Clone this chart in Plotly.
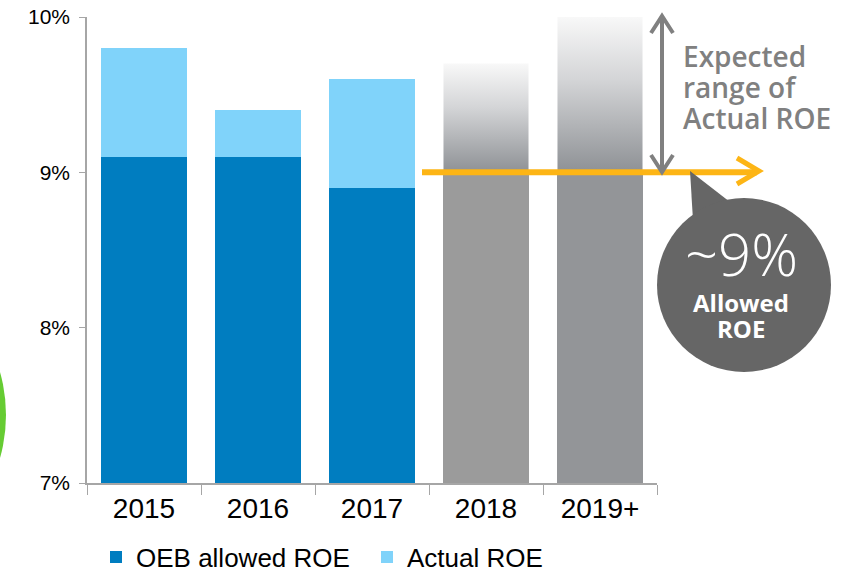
import plotly.graph_objects as go

# ---- data ----
years = ["2015", "2016", "2017", "2018", "2019+"]
hist_years = ["2015", "2016", "2017"]
oeb_allowed = [9.1, 9.1, 8.9]
actual_roe = [9.8, 9.4, 9.6]
proj_years = ["2018", "2019+"]
proj_base = [9.0, 9.0]
proj_top = [9.7, 10.0]
y_ticks = [7, 8, 9, 10]
y_tick_labels = ["7%", "8%", "9%", "10%"]
allowed_level = 9.0

# ---- geometry helpers (plot area in pixels) ----
L, R, T, B = 87, 657, 17, 483
W, H = 854, 572
def px(x):
    return (x - L) / (R - L)
def py(y):
    return (B - y) / (B - T)

BLUE = "#007DC0"
LIGHT = "#80D3FA"
FONT = "Arial, Liberation Sans, sans-serif"

fig = go.Figure()
fig.add_trace(go.Bar(x=hist_years, y=oeb_allowed, name="OEB allowed ROE",
                     marker=dict(color=BLUE, line=dict(width=0))))
fig.add_trace(go.Bar(x=hist_years, y=[a - o for a, o in zip(actual_roe, oeb_allowed)],
                     name="Actual ROE", marker=dict(color=LIGHT, line=dict(width=0))))
fig.add_trace(go.Bar(x=proj_years, y=proj_base, showlegend=False,
                     marker=dict(color=["#9B9B9B", "#939598"], line=dict(width=0))))

# gradient tops for projected bars (overlay numeric axis aligned with categories)
bw = 1 - 0.254
for yr, base, top in zip(proj_years, proj_base, proj_top):
    i = years.index(yr)
    fig.add_trace(go.Scatter(
        x=[i - bw / 2, i + bw / 2, i + bw / 2, i - bw / 2, i - bw / 2],
        y=[base, base, top, top, base],
        xaxis="x2", yaxis="y", mode="lines", fill="toself",
        line=dict(width=0, color="rgba(0,0,0,0)"),
        fillgradient=dict(type="vertical",
                          colorscale=[[0, "#8E9195"], [0.6, "#D4D5D7"], [1, "#F8F8F8"]]),
        showlegend=False, hoverinfo="skip"))

shapes = []
# green partial circle on the left edge
shapes.append(dict(type="circle", xref="paper", yref="paper",
                   x0=px(-308), x1=px(6), y0=py(572), y1=py(258),
                   fillcolor="#66CC33", line=dict(width=0), layer="above"))
# orange allowed-ROE arrow
ORANGE = "#FDB515"
shapes.append(dict(type="line", xref="paper", yref="y", x0=px(422), x1=px(757),
                   y0=allowed_level, y1=allowed_level, line=dict(color=ORANGE, width=6)))
shapes.append(dict(type="path", xref="paper", yref="paper",
                   path=f"M{px(737)},{py(158)} L{px(759)},{py(171)} L{px(737)},{py(184)}",
                   line=dict(color=ORANGE, width=5)))
# grey double arrow
GREY = "#808080"
shapes.append(dict(type="line", xref="paper", yref="paper", x0=px(662), x1=px(662),
                   y0=py(18), y1=py(170), line=dict(color=GREY, width=4)))
shapes.append(dict(type="path", xref="paper", yref="paper",
                   path=f"M{px(651)},{py(33)} L{px(662)},{py(16)} L{px(673)},{py(33)}",
                   line=dict(color=GREY, width=4)))
shapes.append(dict(type="path", xref="paper", yref="paper",
                   path=f"M{px(651)},{py(155)} L{px(662)},{py(172)} L{px(673)},{py(155)}",
                   line=dict(color=GREY, width=4)))
# speech bubble
BUB = "#666666"
shapes.append(dict(type="path", xref="paper", yref="paper",
                   path=f"M{px(690)},{py(171)} L{px(693)},{py(220)} L{px(730)},{py(202)} Z",
                   fillcolor=BUB, line=dict(width=0)))
shapes.append(dict(type="circle", xref="paper", yref="paper",
                   x0=px(657), x1=px(831), y0=py(372), y1=py(198),
                   fillcolor=BUB, line=dict(width=0)))

ann = []
TF = "Open Sans, sans-serif"
for txt, yc in [("Expected", 56), ("range of", 87), ("Actual ROE", 118)]:
    ann.append(dict(text=txt, xref="paper", yref="paper", x=px(681), y=py(yc),
                    xanchor="left", yanchor="middle", showarrow=False,
                    font=dict(family=TF, size=28, color=GREY, weight=600)))
ann.append(dict(text="~9%", xref="paper", yref="paper", x=px(741), y=py(254),
                xanchor="center", yanchor="middle", showarrow=False,
                font=dict(family=TF, size=58, color="white", weight=300)))
ann.append(dict(text="Allowed", xref="paper", yref="paper", x=px(741), y=py(302),
                xanchor="center", yanchor="middle", showarrow=False,
                font=dict(family=TF, size=24, color="white", weight=700)))
ann.append(dict(text="ROE", xref="paper", yref="paper", x=px(741), y=py(328),
                xanchor="center", yanchor="middle", showarrow=False,
                font=dict(family=TF, size=24, color="white", weight=700)))

fig.update_layout(
    width=W, height=H, barmode="stack", bargap=0.254,
    margin=dict(l=L, r=W - R, t=T, b=H - B, autoexpand=False),
    paper_bgcolor="white", plot_bgcolor="white",
    font=dict(family=FONT, color="black"),
    xaxis=dict(type="category", categoryorder="array", categoryarray=years,
               showline=True, linecolor="#A6A6A6", linewidth=1.5,
               ticks="outside", tickson="boundaries", ticklen=10, tickcolor="#A6A6A6",
               tickfont=dict(size=28), showgrid=False, zeroline=False),
    xaxis2=dict(overlaying="x", range=[-0.5, 4.5], visible=False, fixedrange=True),
    yaxis=dict(range=[7, 10], tickmode="array", tickvals=y_ticks, ticktext=y_tick_labels,
               showline=True, linecolor="#A6A6A6", linewidth=1.5,
               ticks="outside", ticklen=6, tickcolor="#A6A6A6", ticklabelstandoff=5,
               tickfont=dict(size=21), showgrid=False, zeroline=False),
    legend=dict(orientation="h", x=px(96), y=py(557), xanchor="left", yanchor="middle",
                font=dict(size=26), itemwidth=30, entrywidth=226, entrywidthmode="pixels",
                traceorder="normal"),
    shapes=shapes, annotations=ann,
)

fig.write_html("out.html", config={"displayModeBar": False},
               post_script="document.body.style.margin='0';document.body.style.padding='0';document.body.style.overflow='hidden';")
